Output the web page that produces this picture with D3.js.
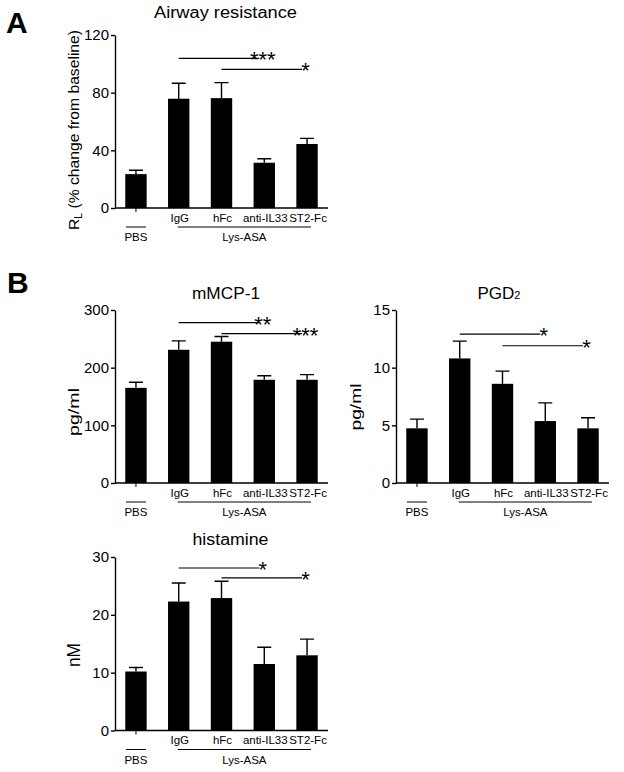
<!DOCTYPE html>
<html>
<head>
<meta charset="utf-8">
<script src="https://cdn.jsdelivr.net/npm/d3@7"></script>
<style>
  body { margin: 0; background: #fff; }
  svg { font-family: "Liberation Sans", Arial, sans-serif; }
  .axis path, .axis line { stroke: #000; stroke-width: 1.4; }
  .axis text { font-size: 15px; fill: #000; }
</style>
</head>
<body>
<div id="svganchor"></div>
<script>
let width = 624, height = 772;

// data (mean, SEM)
let groups = ["PBS", "IgG", "hFc", "anti-IL33", "ST2-Fc"];

let airwayMean = [23.5, 75.8, 76.2, 31.4, 44.4];
let airwaySem = [2.7, 10.7, 10.8, 2.8, 3.9];
let airwayTicks = [0, 40, 80, 120];
let airwaySig = [["IgG", "anti-IL33", 103.8, "***"], ["hFc", "ST2-Fc", 96.2, "*"]];

let mcpMean = [165, 231, 245, 179, 179];
let mcpSem = [9.7, 15.5, 9, 7, 9];
let mcpTicks = [0, 100, 200, 300];
let mcpSig = [["IgG", "anti-IL33", 278, "**"], ["hFc", "ST2-Fc", 259, "***"]];

let pgdMean = [4.74, 10.8, 8.6, 5.37, 4.74];
let pgdSem = [0.8, 1.5, 1.1, 1.58, 0.92];
let pgdTicks = [0, 5, 10, 15];
let pgdSig = [["IgG", "anti-IL33", 12.9, "*"], ["hFc", "ST2-Fc", 11.9, "*"]];

let histMean = [10.2, 22.3, 22.9, 11.5, 13.0];
let histSem = [0.7, 3.2, 2.9, 2.9, 2.8];
let histTicks = [0, 10, 20, 30];
let histSig = [["IgG", "anti-IL33", 28.1, "*"], ["hFc", "ST2-Fc", 26.4, "*"]];

let svg = d3.select("#svganchor")
    .append("svg")
    .attr("width", width)
    .attr("height", height);

function drawPanel(p) {
    let g = svg.append("g");

    let xScale = d3.scaleBand()
        .domain(groups)
        .range([p.x, p.x + 213])
        .paddingInner(0.5)
        .paddingOuter(0.24);

    let yScale = d3.scaleLinear()
        .domain([0, p.ticks[p.ticks.length - 1]])
        .range([p.bottom, p.top]);

    let cx = function(name) { return xScale(name) + xScale.bandwidth() / 2; };

    let data = groups.map(function(name, i) {
        return {name: name, mean: p.mean[i], sem: p.sem[i]};
    });

    // bars
    g.selectAll(".bar")
        .data(data)
        .enter()
        .append("rect")
        .attr("x", function(d) { return xScale(d.name); })
        .attr("y", function(d) { return yScale(d.mean); })
        .attr("width", xScale.bandwidth())
        .attr("height", function(d) { return yScale(0) - yScale(d.mean); })
        .attr("fill", "#000");

    // upper error bars
    g.selectAll(".err")
        .data(data)
        .enter()
        .append("path")
        .attr("d", function(d) {
            let c = cx(d.name), y0 = yScale(d.mean), y1 = yScale(d.mean + d.sem);
            return "M" + c + "," + y0 + "V" + y1 + "M" + (c - 7) + "," + y1 + "H" + (c + 7);
        })
        .attr("stroke", "#000")
        .attr("stroke-width", 1.4)
        .attr("fill", "none");

    // y axis
    let yAxis = d3.axisLeft(yScale)
        .tickValues(p.ticks)
        .tickSize(4)
        .tickSizeOuter(0)
        .tickPadding(2);

    g.append("g")
        .attr("class", "axis")
        .attr("transform", "translate(" + p.x + ",0)")
        .call(yAxis);

    // x axis line + PBS tick
    g.append("line")
        .attr("x1", p.x).attr("x2", p.x + 213)
        .attr("y1", yScale(0)).attr("y2", yScale(0))
        .attr("stroke", "#000").attr("stroke-width", 1.4);

    g.append("line")
        .attr("x1", cx("PBS")).attr("x2", cx("PBS"))
        .attr("y1", yScale(0)).attr("y2", yScale(0) + 4)
        .attr("stroke", "#000").attr("stroke-width", 1);

    // category labels
    g.selectAll(".cat")
        .data(groups.slice(1))
        .enter()
        .append("text")
        .attr("x", function(d) { return cx(d) + 1; })
        .attr("y", yScale(0) + 13.5)
        .attr("text-anchor", "middle")
        .style("font-size", "11.5px")
        .text(function(d) { return d; });

    let lineY = yScale(0) + 19;
    g.append("line")
        .attr("x1", cx("PBS") - 10).attr("x2", cx("PBS") + 10)
        .attr("y1", lineY).attr("y2", lineY)
        .attr("stroke", "#000").attr("stroke-width", 1);
    g.append("line")
        .attr("x1", cx("IgG") - 1).attr("x2", cx("ST2-Fc") + 4)
        .attr("y1", lineY).attr("y2", lineY)
        .attr("stroke", "#000").attr("stroke-width", 1);

    g.append("text")
        .attr("x", cx("PBS"))
        .attr("y", yScale(0) + 33)
        .attr("text-anchor", "middle")
        .style("font-size", "11.5px")
        .text("PBS");
    g.append("text")
        .attr("x", (cx("IgG") + cx("ST2-Fc") + 3) / 2)
        .attr("y", yScale(0) + 33)
        .attr("text-anchor", "middle")
        .style("font-size", "11.5px")
        .text("Lys-ASA");

    // significance lines
    p.sig.forEach(function(s) {
        let y = yScale(s[2]);
        g.append("line")
            .attr("x1", cx(s[0])).attr("x2", cx(s[1]) - 5)
            .attr("y1", y).attr("y2", y)
            .attr("stroke", "#000").attr("stroke-width", 1.2);
        g.append("text")
            .attr("x", cx(s[1]) - 1.5)
            .attr("y", y + 9)
            .attr("text-anchor", "middle")
            .style("font-size", "22px")
            .text(s[3]);
    });

    // title
    let title = g.append("text")
        .attr("x", p.titleX)
        .attr("y", p.titleY)
        .attr("text-anchor", "middle")
        .style("font-size", "16px");
    if (p.titleSub) {
        title.append("tspan").style("font-size", "17px").text(p.title);
        title.append("tspan").style("font-size", "11px").text(p.titleSub);
    } else {
        title.attr("textLength", p.titleLen)
            .attr("lengthAdjust", "spacingAndGlyphs")
            .text(p.title);
    }

    // y label
    let yl = g.append("text")
        .attr("transform", "translate(" + p.labelX + "," + p.labelY + ") rotate(-90)")
        .attr("text-anchor", "middle")
        .attr("textLength", p.labelLen)
        .attr("lengthAdjust", "spacingAndGlyphs")
        .style("font-size", p.labelSize + "px");
    if (p.labelSub) {
        yl.append("tspan").text("R");
        yl.append("tspan").attr("dy", 3).style("font-size", "10px").text(p.labelSub);
        yl.append("tspan").attr("dy", -3).text(p.label);
    } else {
        yl.text(p.label);
    }
}

drawPanel({x: 115, top: 35, bottom: 208, mean: airwayMean, sem: airwaySem, ticks: airwayTicks, sig: airwaySig,
    title: "Airway resistance", titleX: 225.5, titleY: 18, titleLen: 143,
    label: " (% change from baseline)", labelSub: "L", labelX: 79, labelY: 130, labelLen: 200, labelSize: 15});

drawPanel({x: 115, top: 310, bottom: 483, mean: mcpMean, sem: mcpSem, ticks: mcpTicks, sig: mcpSig,
    title: "mMCP-1", titleX: 226, titleY: 299, titleLen: 68,
    label: "pg/ml", labelX: 79, labelY: 412, labelLen: 48, labelSize: 15});

drawPanel({x: 396, top: 310, bottom: 483, mean: pgdMean, sem: pgdSem, ticks: pgdTicks, sig: pgdSig,
    title: "PGD", titleSub: "2", titleX: 499, titleY: 299,
    label: "pg/ml", labelX: 361, labelY: 407, labelLen: 47, labelSize: 15});

drawPanel({x: 115, top: 557, bottom: 730.5, mean: histMean, sem: histSem, ticks: histTicks, sig: histSig,
    title: "histamine", titleX: 230.5, titleY: 545, titleLen: 76,
    label: "nM", labelX: 80, labelY: 655, labelLen: 24, labelSize: 18});

// panel letters
svg.append("text")
    .attr("x", 6).attr("y", 33)
    .style("font-size", "30px").style("font-weight", "bold")
    .text("A");

svg.append("text")
    .attr("x", 7).attr("y", 293)
    .style("font-size", "30px").style("font-weight", "bold")
    .text("B");
</script>
</body>
</html>
